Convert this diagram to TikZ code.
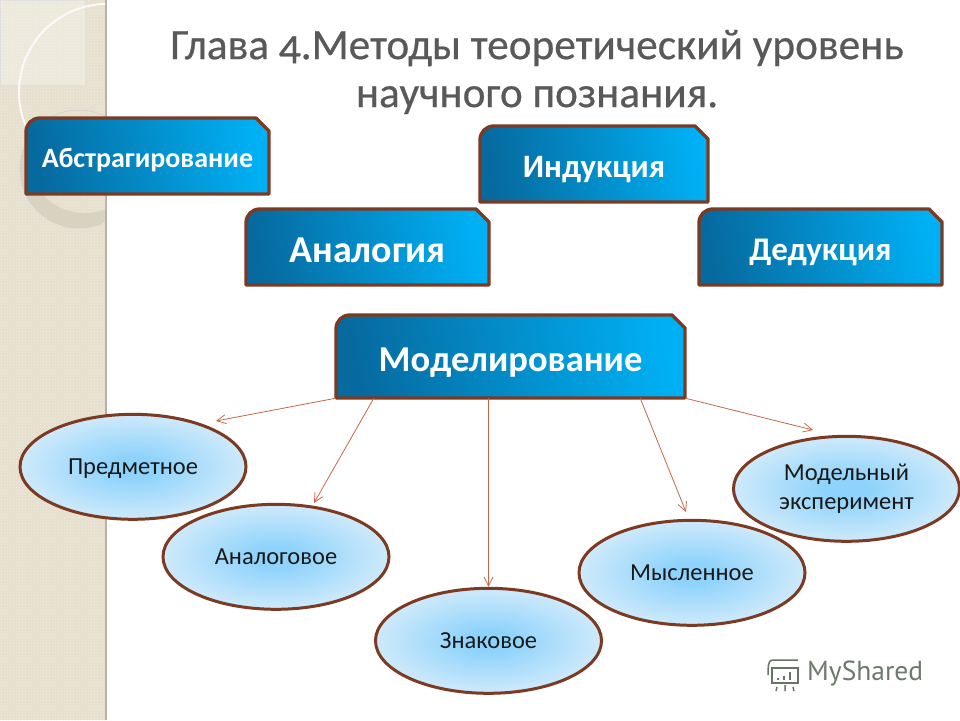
\documentclass[tikz,border=0pt]{standalone}
\usepackage{fontspec}
\setmainfont{Carlito}[Numbers=OldStyle]
\newfontfamily\logofont{PT Sans}
\newfontfamily\titlefont{Carlito}[Numbers=OldStyle,FakeBold=0.5]
\usetikzlibrary{shapes.geometric,patterns,arrows.meta,calc}
\definecolor{brn}{HTML}{7D3A22}
\definecolor{arr}{HTML}{C4684A}
\definecolor{boxd}{HTML}{066A9F}
\definecolor{boxl}{HTML}{00B0F4}
\definecolor{ein}{HTML}{8ED3FB}
\definecolor{eout}{HTML}{D8EDFB}
\definecolor{panel}{HTML}{E6DFCD}
\definecolor{titlec}{HTML}{595959}
\pgfdeclareradialshading{ovalshade}{\pgfpoint{0bp}{0bp}}{color(0bp)=(ein); color(5bp)=(ein); color(28bp)=(eout); color(50bp)=(eout)}
\tikzset{
  x=1pt,y=-1pt,
  boxshape/.style={draw=brn,line width=3.4pt,line join=round,left color=boxd,right color=boxl,shading angle=100},
  ovalbase/.style={ellipse,draw=brn,line width=3pt,shading=ovalshade,minimum width=226pt,minimum height=105pt,inner sep=0pt,align=center,text=black!90,font=\fontsize{24.5}{29}\selectfont},
  oval/.style={ovalbase,text height=15pt,text depth=0pt},
  link/.style={draw=arr,line width=0.8pt,-{Straight Barb[length=9pt,width=9pt,line width=0.8pt]}},
  titletext/.style={align=center,font=\titlefont\fontsize{43.3}{48}\selectfont,inner sep=0pt},
}
% name, x1, y1, x2, y2, font size, text
\newcommand{\snipbox}[7]{%
  \path[boxshape] (#2+14,#3) -- (#4-13,#3) -- (#4,#3+13) -- (#4,#5) -- (#2,#5) -- (#2,#3+14) .. controls (#2,#3+6) and (#2+6,#3) .. (#2+14,#3) -- cycle;
  \node[text=white,inner sep=0pt,minimum width=#4pt-#2pt,minimum height=#5pt-#3pt,text height=0.8*#6 pt,text depth=0pt,font=\bfseries\fontsize{#6}{#6}\selectfont] (#1) at ({(#2+#4)/2},{(#3+#5)/2}) {#7};
}
\begin{document}
\begin{tikzpicture}
\useasboundingbox (0,0) rectangle (960,720);
\fill[white] (0,0) rectangle (960,720);
% side panel
\fill[panel] (0,0) rectangle (106,720);
\fill[pattern=crosshatch dots,pattern color=white!45!panel] (0,0) rectangle (106,720);
\fill[black!20!panel] (104.5,0) rectangle (107,720);
\begin{scope}
\clip (0,0) rectangle (105,720);
\fill[white,opacity=0.3] (0,0) rectangle (85,85);
\draw[black!12,line width=0.6pt] (0,0) rectangle (85,85);
\fill[black!6!panel] (79,169) circle[radius=59];
\fill[panel] (85,155) circle[radius=58];
\fill[pattern=crosshatch dots,pattern color=white!45!panel] (85,155) circle[radius=58];
\draw[black!18,line width=0.6pt] (79,169) circle[radius=59];
\draw[white!85!panel,line width=2pt] (107,92) circle[radius=88];
\end{scope}
% title
\node[titletext,text=titlec] (title) at (537,72) {Глава 4.Методы теоретический уровень\\научного познания.};
% boxes
\snipbox{abs}{26}{118}{269}{194}{28}{Абстрагирование}
\snipbox{ind}{480}{126}{708}{202}{32.7}{Индукция}
\snipbox{ana}{246}{209}{489}{285}{38}{Аналогия}
\snipbox{ded}{699}{209}{942}{285}{33}{Дедукция}
\snipbox{mod}{336}{315}{685}{398}{36.5}{Моделирование}
% ovals
\node[oval] (o1) at (133,466.8) {Предметное};
\node[oval] (o2) at (276,556.8) {Аналоговое};
\node[oval] (o3) at (488.5,640.8) {Знаковое};
\node[oval] (o4) at (692,572.8) {Мысленное};
\node[ovalbase] (o5) at (846.5,488.8) {Модельный\\эксперимент};
% connectors
\draw[link] (mod.south west) -- ([shift={(83,-45.8)}]o1.center);
\draw[link] ([shift={(38,0)}]mod.south west) -- ([shift={(38,-53.8)}]o2.center);
\draw[link] (mod.south west -| o3.north) -- (o3.north);
\draw[link] ([shift={(-45,0)}]mod.south east) -- ([shift={(-6,-60.8)}]o4.center);
\draw[link] (mod.south east) -- ([shift={(-33.5,-58.8)}]o5.center);
% logo
\begin{scope}[draw=black!70!green!20!gray,line width=1.5pt]
\draw (772,660) -- (798,660) (772,660) .. controls (768,660) and (768,668) .. (768,675);
\draw (772,668) rectangle (798,683);
\draw (777,687) -- (776,691) (785,685) -- (785,691) (793,687) -- (794,691);
\draw[line width=2pt] (778,680) -- (778,678) (784,680) -- (784,676) (790,680) -- (790,672);
\end{scope}
\node[inner sep=0pt,anchor=west,text=black!65!green!15!gray,font=\logofont\fontsize{27.5}{27.5}\selectfont] (logo) at (807,674) {MyShared};
\end{tikzpicture}
\end{document}
